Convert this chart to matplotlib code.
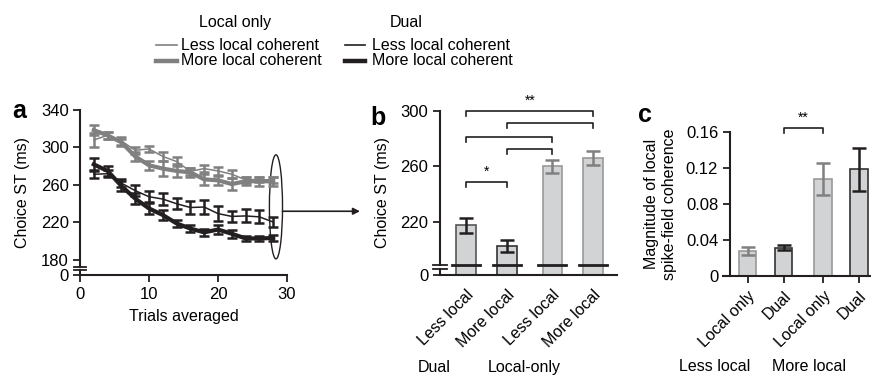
import matplotlib
matplotlib.use("Agg")
import matplotlib.pyplot as plt
from matplotlib.lines import Line2D
from matplotlib.patches import Ellipse

plt.rcParams['font.family'] = ['Liberation Sans', 'DejaVu Sans']
plt.rcParams['font.size'] = 11

# ===== Data =====
trials = [2, 4, 6, 8, 10, 12, 14, 16, 18, 20, 22, 24, 26, 28]
lo_less = [308, 313, 307, 297, 298.5, 290.5, 285, 274.6, 277.5, 275, 271.5, 265.5, 266, 265]
lo_less_err = [7, 4, 4, 4, 3, 5, 5, 4, 4, 4, 4, 3, 3, 3]
lo_more = [318.5, 313, 305.5, 290.5, 281, 277.5, 275, 273.5, 266, 265, 261, 264, 264, 264]
lo_more_err = [5, 4, 4, 5, 5, 8, 7, 5, 6, 5, 6, 4, 5, 5]
dual_less = [271.5, 272, 262, 254, 247.5, 245, 240, 236, 236.5, 229.5, 226.5, 227, 226, 220.5]
dual_less_err = [4, 4, 4, 6, 6, 6, 6, 7, 7, 8, 6, 7, 7, 5]
dual_more = [282, 275, 259, 245.5, 235, 228, 219, 213.5, 209.5, 212.5, 208, 203, 203, 203.5]
dual_more_err = [7, 5, 5, 6, 6, 5, 4, 4, 4, 5, 4, 3, 3, 3]

b_labels = ['Less local', 'More local', 'Less local', 'More local']
b_groups = ['Dual', 'Local-only']
b_means = [217.5, 202.5, 260, 266]
b_err = [5.5, 4.5, 4.6, 5]
b_sig = [(0, 3, 300, '**'), (1, 3, 291, ''), (0, 2, 281.4, ''),
         (1, 2, 272.6, ''), (0, 1, 248.6, '*')]

c_labels = ['Local only', 'Dual', 'Local only', 'Dual']
c_groups = ['Less local', 'More local']
c_means = [0.028, 0.0317, 0.108, 0.1186]
c_err = [0.0046, 0.0028, 0.018, 0.024]
c_sig = [(1, 2, 0.1651, '**')]
# ================

GRAY = '#808080'
BLACK = '#231f20'
FILL = '#d2d3d4'
bar_pos = [0, 1, 2.1, 3.1]
bar_edge = ['#555555', '#333333', '#999999', '#999999']
b_ecol = [BLACK, BLACK, GRAY, GRAY]
c_edge = ['#999999', '#333333', '#999999', '#333333']
c_ecol = [GRAY, BLACK, GRAY, BLACK]
TICK = 12
LAB = 11.5
ROT = 11.5

W, H = 871, 375
fig = plt.figure(figsize=(W / 100, H / 100), dpi=100)


def style(ax):
    for s in ['top', 'right']:
        ax.spines[s].set_visible(False)
    for s in ['left', 'bottom']:
        ax.spines[s].set_linewidth(1.5)
        ax.spines[s].set_color(BLACK)
    ax.tick_params(width=1.3, length=5, color=BLACK, labelsize=TICK)


def ybreak(ax, hi, lo, bottom, half=0.03):
    # broken y axis: spine stops at hi, restarts at lo
    ax.spines['left'].set_bounds(hi, ax.get_ylim()[1])
    tr = ax.get_yaxis_transform()
    ax.plot([0, 0], [bottom, lo], color=BLACK, lw=1.5, transform=tr, clip_on=False)
    for v in (hi, lo):
        ax.plot([-half, half], [v, v], color=BLACK, lw=1.3, transform=tr, clip_on=False)


# ---------- panel a ----------
axa = fig.add_axes([80 / W, 1 - 275 / H, 207 / W, 165 / H])
style(axa)
series = [
    (lo_less, lo_less_err, GRAY, 1.1),
    (lo_more, lo_more_err, GRAY, 3.0),
    (dual_less, dual_less_err, BLACK, 1.1),
    (dual_more, dual_more_err, BLACK, 3.0),
]
for y, e, col, lw in series:
    axa.errorbar(trials, y, yerr=e, color=col, lw=lw, elinewidth=1.8,
                 capsize=3.5, capthick=1.8)
a_bottom = 164
axa.set_xlim(0, 30)
axa.set_ylim(a_bottom, 340)
axa.set_xticks([0, 10, 20, 30])
axa.set_yticks([a_bottom, 180, 220, 260, 300, 340], ['0', '180', '220', '260', '300', '340'])
axa.tick_params(axis='x', pad=3.5)
axa.tick_params(axis='y', pad=3)
axa.set_xlabel('Trials averaged', labelpad=5, fontsize=LAB)
axa.set_ylabel('Choice ST (ms)', labelpad=8, fontsize=LAB)
ybreak(axa, 172.9, 169.3, a_bottom)
axa.add_patch(Ellipse((28.4, 236.7), 1.9, 111, fill=False, lw=1.0,
                      edgecolor=BLACK, clip_on=False))

# ---------- panel b ----------
axb = fig.add_axes([440 / W, 1 - 275 / H, 177 / W, 164.3 / H])
style(axb)
b_bottom = 181.6
axb.bar(bar_pos, b_means, width=0.48, color=FILL, edgecolor=bar_edge, linewidth=1.2)
for p, m, e, c in zip(bar_pos, b_means, b_err, b_ecol):
    axb.errorbar(p, m, yerr=e, color=c, elinewidth=1.8, capsize=5, capthick=1.8)
for p in bar_pos:
    axb.plot([p - 0.34, p + 0.34], [188.8, 188.8], color=BLACK, lw=2)
axb.set_xlim(-0.642, 3.678)
axb.set_ylim(b_bottom, 300)
axb.set_yticks([b_bottom, 220, 260, 300], ['0', '220', '260', '300'])
axb.set_xticks(bar_pos, b_labels, rotation=45, ha='right', rotation_mode='anchor',
               fontsize=ROT)
axb.tick_params(axis='x', length=0, pad=9)
axb.set_ylabel('Choice ST (ms)', labelpad=7, fontsize=LAB)
ybreak(axb, 188.8, 185.9, b_bottom, half=0.04)
for i, j, lev, star in b_sig:
    xi, xj = bar_pos[i], bar_pos[j]
    axb.plot([xi, xi, xj, xj], [lev - 3.6, lev, lev, lev - 3.6], color=BLACK,
             lw=1.2, clip_on=False)
    if star:
        axb.text((xi + xj) / 2, lev + 2, star, ha='center', va='bottom', fontsize=10)
axb.text(-0.034, -0.56, b_groups[0], transform=axb.transAxes, ha='center',
         va='center', fontsize=LAB)
axb.text(0.475, -0.56, b_groups[1], transform=axb.transAxes, ha='center',
         va='center', fontsize=LAB)

# arrow from the ellipse to panel b
axa.annotate('', xy=(-0.452, 0.388), xycoords=axb.transAxes,
             xytext=(29.35, 232), textcoords=axa.transData,
             arrowprops=dict(arrowstyle='-|>', lw=1.2, color=BLACK,
                             shrinkA=0, shrinkB=0, mutation_scale=10),
             annotation_clip=False)

# ---------- panel c ----------
axc = fig.add_axes([723 / W, 1 - 276 / H, 148 / W, 143.7 / H])
style(axc)
axc.spines['left'].set_position(('data', -0.493))
axc.bar(bar_pos, c_means, width=0.49, color=FILL, edgecolor=c_edge, linewidth=1.2)
for p, m, e, c in zip(bar_pos, c_means, c_err, c_ecol):
    axc.errorbar(p, m, yerr=e, color=c, elinewidth=1.8, capsize=5, capthick=1.8)
axc.set_xlim(-0.688, 3.434)
axc.set_ylim(0, 0.16)
axc.set_yticks([0, 0.04, 0.08, 0.12, 0.16], ['0', '0.04', '0.08', '0.12', '0.16'])
axc.set_xticks(bar_pos, c_labels, rotation=45, ha='right', rotation_mode='anchor',
               fontsize=ROT)
axc.tick_params(axis='x', pad=4)
axc.set_ylabel('Magnitude of local\nspike-field coherence', labelpad=6,
               linespacing=1.25, fontsize=LAB)
for i, j, lev, star in c_sig:
    xi, xj = bar_pos[i], bar_pos[j]
    axc.plot([xi, xi, xj, xj], [lev - 0.0056, lev, lev, lev - 0.0056], color=BLACK,
             lw=1.2, clip_on=False)
    axc.text((xi + xj) / 2, lev + 0.003, star, ha='center', va='bottom', fontsize=10)
axc.text(-0.054, -0.633, c_groups[0], transform=axc.transAxes, ha='center',
         va='center', fontsize=LAB)
axc.text(0.581, -0.633, c_groups[1], transform=axc.transAxes, ha='center',
         va='center', fontsize=LAB)

# ---------- panel letters ----------
for lx, ly, s in [(12, 118, 'a'), (370, 125, 'b'), (638, 122, 'c')]:
    fig.text(lx / W, 1 - ly / H, s, fontsize=18, weight='bold', va='baseline')

# ---------- legend ----------
fig.text(235 / W, 1 - 22.7 / H, 'Local only', ha='center', va='center', fontsize=LAB)
fig.text(406 / W, 1 - 22.7 / H, 'Dual', ha='center', va='center', fontsize=LAB)
leg = [
    (156, 177, 181, 45, GRAY, 1.2, 'Less local coherent'),
    (156, 177, 181, 60.7, GRAY, 3.2, 'More local coherent'),
    (345, 365, 372, 45, BLACK, 1.2, 'Less local coherent'),
    (345, 365, 372, 60.7, BLACK, 3.2, 'More local coherent'),
]
for x0, x1, tx, y, col, lw, lab in leg:
    fig.add_artist(Line2D([x0 / W, x1 / W], [1 - y / H, 1 - y / H],
                          transform=fig.transFigure, color=col, lw=lw))
    fig.text(tx / W, 1 - y / H, lab, va='center', fontsize=LAB)

fig.savefig('out.png', dpi=100)
